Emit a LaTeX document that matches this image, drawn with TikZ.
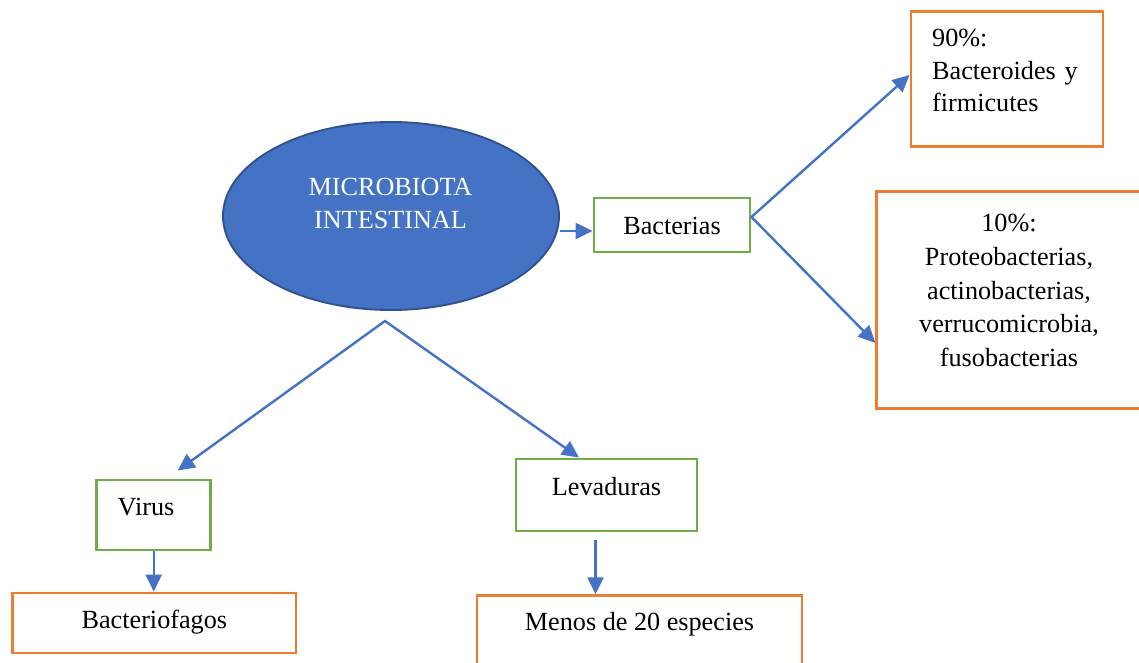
\documentclass[tikz,border=0pt]{standalone}
\usepackage{fontspec}
\setmainfont{Liberation Serif}
\usetikzlibrary{arrows.meta,shapes.geometric}
\definecolor{ablue}{HTML}{4472C4}
\definecolor{edgeblue}{HTML}{2F528F}
\definecolor{agreen}{HTML}{70AD47}
\definecolor{aorange}{HTML}{ED7D31}
\begin{document}
\begin{tikzpicture}[x=1pt,y=-1pt,
  font=\fontsize{26.2}{33.7}\selectfont,
  gbox/.style={draw=agreen, line width=2.9pt, rectangle, inner sep=0pt, text height=18pt},
  obox/.style={draw=aorange, line width=2.9pt, rectangle, inner sep=0pt, text height=18pt},
  txt/.style={inner sep=0pt, text height=18pt},
  tip/.style={},
  arr/.style={draw=ablue, line width=2.4pt, -{Triangle[length=17pt,width=16pt]}},
  darr/.style={draw=ablue, line width=2.4pt, line join=miter, {Triangle[length=17pt,width=16pt]}-{Triangle[length=17pt,width=16pt]}},
]
\useasboundingbox (0,0) rectangle (1139,663);
\clip (0,0) rectangle (1139,663);
\fill[white] (0,0) rectangle (1139,663);

% ellipse
\node[ellipse, fill=ablue, draw=edgeblue, line width=1.9pt, minimum width=336pt, minimum height=188pt, inner sep=0pt] (ell) at (391,216) {};
\node[txt, anchor=base, text width=220pt, align=center, text=white] (mtxt) at (390.5,195) {MICROBIOTA\\INTESTINAL};

% boxes
\node[gbox, minimum width=156pt, minimum height=54pt, text depth=0pt] (bact) at (672,225) {Bacterias};
\node[obox, minimum width=192pt, minimum height=135pt] (b90) at (1007,79.2) {};
\node[txt, anchor=base west, text width=170pt, align=left, font=\fontsize{26.2}{32.5}\selectfont] (t90) at (932,46.7) {90\%:\\Bacteroides y\\firmicutes};
\node[obox, minimum width=264.6pt, minimum height=216.3pt] (b10) at (1009,299.9) {};
\node[txt, anchor=base, text width=260pt, align=center] (t10) at (1009,231.7) {10\%:\\Proteobacterias,\\actinobacterias,\\verrucomicrobia,\\fusobacterias};
\node[gbox, minimum width=114pt, minimum height=70pt, text depth=18pt, text width=72pt, inner xsep=21pt, align=left] (virus) at (153.7,515) {Virus};
\node[gbox, minimum width=181pt, minimum height=72pt, text depth=18pt] (lev) at (606.5,495) {Levaduras};
\node[obox, minimum width=283.3pt, minimum height=60pt, text depth=8pt] (bf) at (154.35,623) {Bacteriofagos};
\node[obox, minimum width=325pt, minimum height=104.3pt, text depth=53.8pt] (menos) at (639.5,647.9) {Menos de 20 especies};

% connectors
\coordinate (bin) at ([yshift=-6pt]bact.west);
\draw[arr] (ell.east |- bin) -- (bin);
\coordinate (bv) at ([yshift=8pt]bact.east);
\coordinate (a90) at ([yshift=4.2pt]b90.west);
\coordinate (a10) at ([yshift=-43pt]b10.west);
\draw[darr] (a90) -- (bv) -- (a10);
\coordinate (split) at (385,321);
\coordinate (av) at ([xshift=24pt,yshift=8pt]virus.north);
\coordinate (al) at ([xshift=-27.5pt]lev.north);
\draw[darr] (av) -- (split) -- (al);
\draw[arr] (virus.south) -- (virus.south |- bf.north);
\coordinate (ls) at ([xshift=-11pt,yshift=-8pt]lev.south);
\draw[arr] (ls) -- (ls |- menos.north);
\end{tikzpicture}
\end{document}
